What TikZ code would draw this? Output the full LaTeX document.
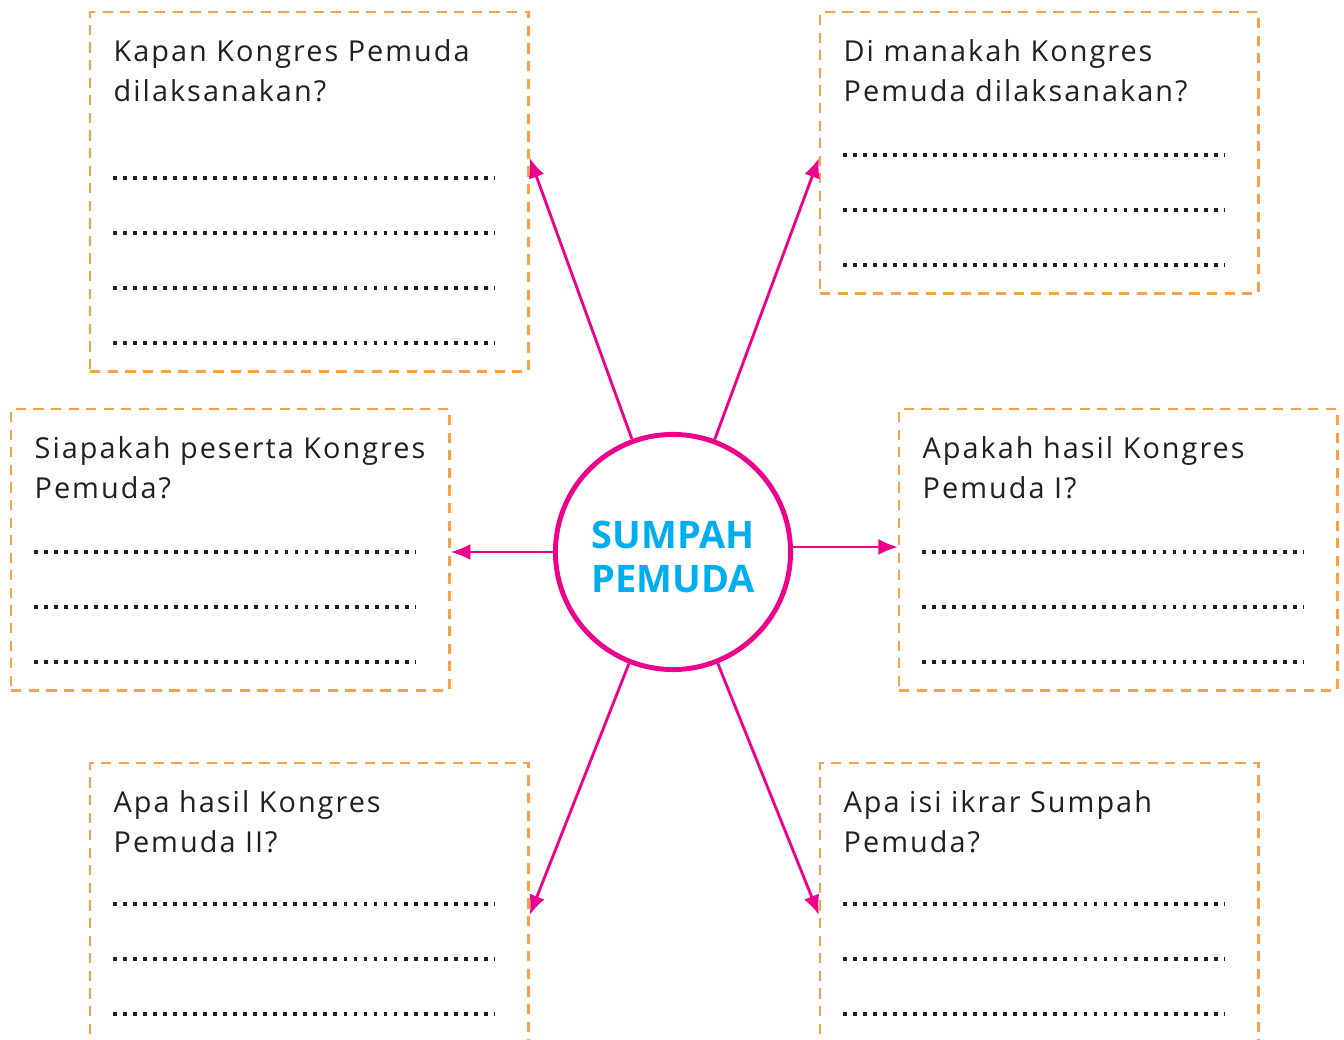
\documentclass[tikz,border=0pt]{standalone}
\usepackage{fontspec}
\setmainfont{Open Sans}
\newfontfamily\qfont[LetterSpace=7]{Open Sans}
\usetikzlibrary{arrows.meta,positioning}
\definecolor{pinkline}{HTML}{EC008C}
\definecolor{dashorange}{HTML}{F7A24A}
\definecolor{titlecyan}{HTML}{00AEEF}
\definecolor{inkgray}{HTML}{231F20}

\begin{document}
\begin{tikzpicture}[x=0.01cm, y=-0.01cm, >={Latex[length=5.6pt,width=4.6pt]},
    qbox/.style={draw=dashorange, line width=0.7pt, dash pattern=on 2.9pt off 2.1pt, rectangle, anchor=north west, inner sep=0pt, minimum width=4.38cm},
    question/.style={anchor=base west, inner sep=0pt, align=left, text=inkgray, font={\qfont\fontsize{8.2}{11.4}\selectfont}},
    answer/.style={draw=inkgray, line width=1.1pt, dash pattern=on 1.1pt off 1.75pt},
    link/.style={draw=pinkline, line width=0.8pt, ->}]
    \clip (0,0) rectangle (1344,1040);

    \node[draw=pinkline, line width=1.4pt, circle, minimum size=2.35cm, inner sep=0pt] (sumpah_pemuda) at (673,552) {};
    \node[align=center, text=titlecyan, font={\bfseries\fontsize{10.8}{12.5}\selectfont}] (sumpah_title) at (673,557) {SUMPAH\\PEMUDA};

    \node[qbox, minimum height=3.59cm] (kapan_box) at (89,11) {};
    \node[qbox, minimum height=2.81cm] (dimana_box) at (819,11) {};
    \node[qbox, minimum height=2.81cm] (siapa_box) at (10,408) {};
    \node[qbox, minimum height=2.81cm] (hasil1_box) at (898,408) {};
    \node[qbox, minimum height=3.40cm] (hasil2_box) at (89,762) {};
    \node[qbox, minimum height=3.40cm] (ikrar_box) at (819,762) {};

    \node[question] (kapan_text) at ([shift={(24,91)}]kapan_box.north west) {Kapan Kongres Pemuda\\dilaksanakan?};
    \node[question] (dimana_text) at ([shift={(24,91)}]dimana_box.north west) {Di manakah Kongres\\Pemuda dilaksanakan?};
    \node[question] (siapa_text) at ([shift={(24,91)}]siapa_box.north west) {Siapakah peserta Kongres\\Pemuda?};
    \node[question] (hasil1_text) at ([shift={(24,91)}]hasil1_box.north west) {Apakah hasil Kongres\\Pemuda I?};
    \node[question] (hasil2_text) at ([shift={(24,91)}]hasil2_box.north west) {Apa hasil Kongres\\Pemuda II?};
    \node[question] (ikrar_text) at ([shift={(24,91)}]ikrar_box.north west) {Apa isi ikrar Sumpah\\Pemuda?};

    \foreach \dy in {167,222,277,332}
        \draw[answer] ([shift={(24,\dy)}]kapan_box.north west) -- ++(381,0);
    \foreach \b in {dimana_box,siapa_box,hasil1_box}
        \foreach \dy in {144,199,254}
            \draw[answer] ([shift={(24,\dy)}]\b.north west) -- ++(381,0);
    \foreach \b in {hasil2_box,ikrar_box}
        \foreach \dy in {142,197,252}
            \draw[answer] ([shift={(24,\dy)}]\b.north west) -- ++(381,0);

    \coordinate (kapan_tip) at (kapan_box.east |- 0,158);
    \coordinate (dimana_tip) at (dimana_box.west |- 0,158);
    \coordinate (siapa_tip) at (siapa_box.east |- 0,552);
    \coordinate (hasil1_tip) at (hasil1_box.west |- 0,547);
    \coordinate (hasil2_tip) at (hasil2_box.east |- 0,915);
    \coordinate (ikrar_tip) at (ikrar_box.west |- 0,915);

    \foreach \t in {kapan_tip,dimana_tip,hasil2_tip,ikrar_tip}
        \path[link] (sumpah_pemuda) -- (\t);
    \path[link] (sumpah_pemuda.west) -- (siapa_tip);
    \path[link] (sumpah_pemuda.east |- hasil1_tip) -- (hasil1_tip);
\end{tikzpicture}
\end{document}
